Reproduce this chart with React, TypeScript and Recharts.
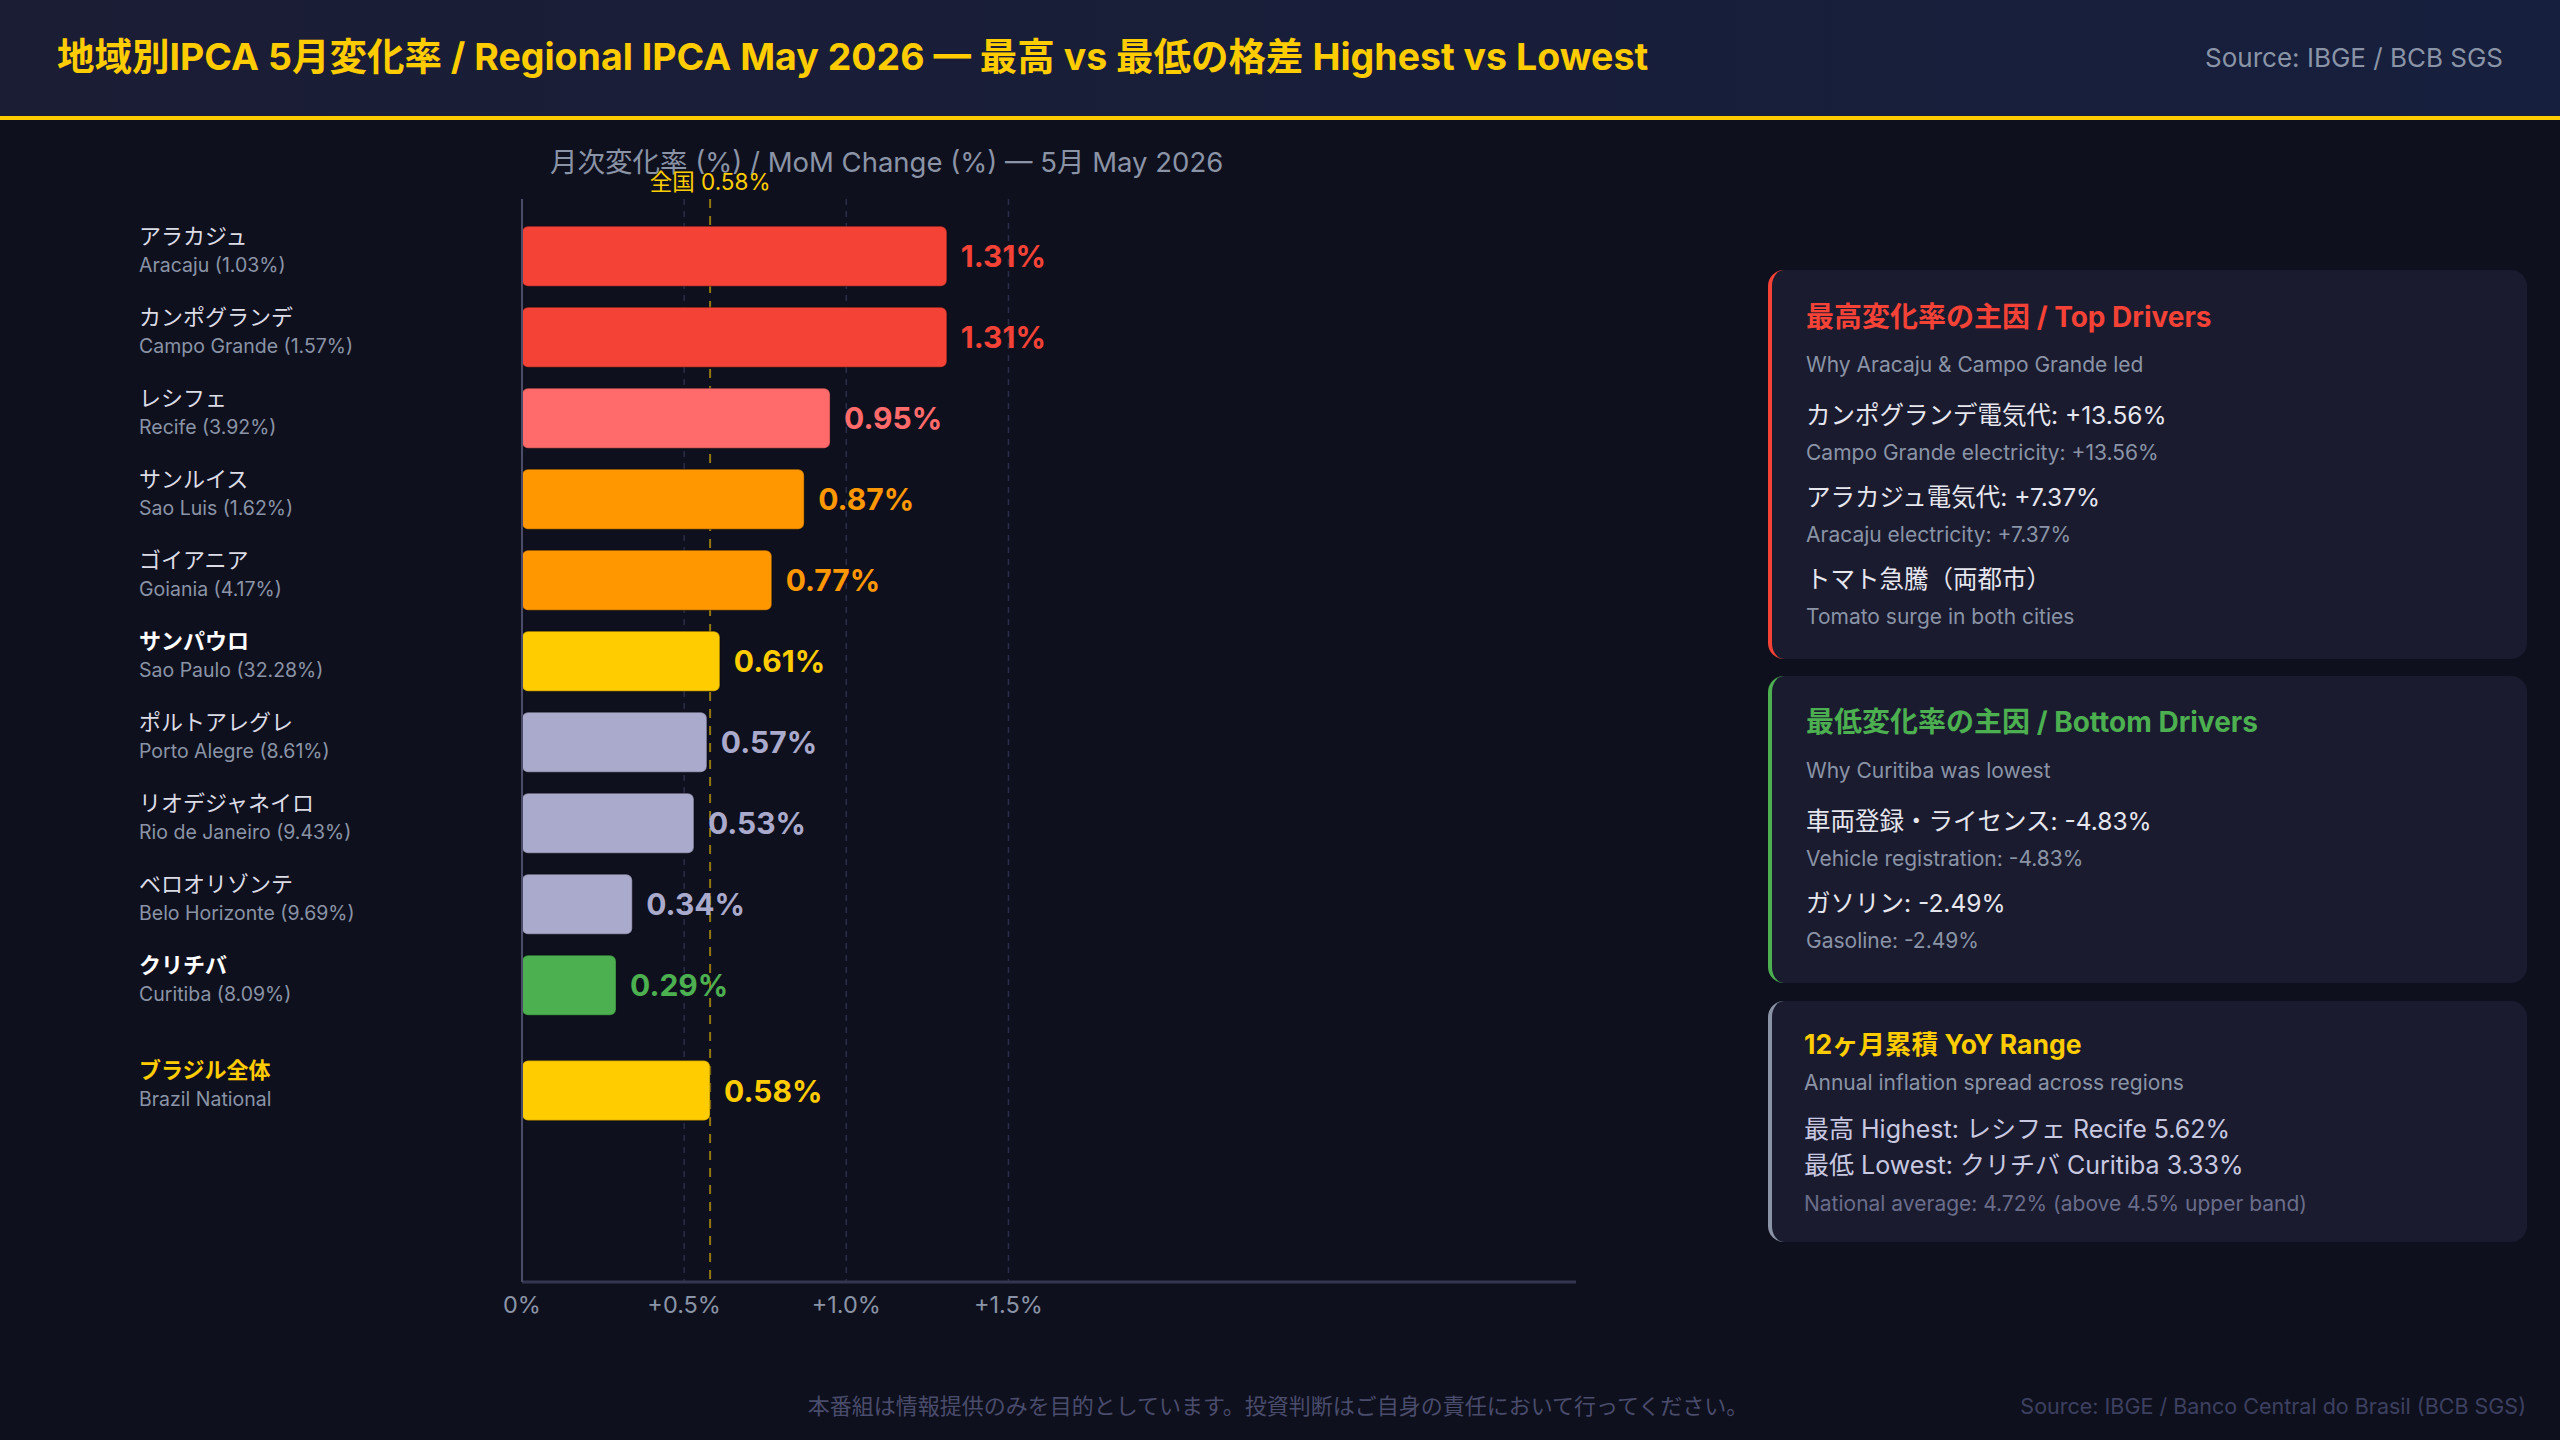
import { BarChart, Bar, XAxis, YAxis, CartesianGrid, ReferenceLine, Cell, LabelList } from 'recharts';

// regional IPCA, May 2026 (month-on-month %)
const regionsJa = ['アラカジュ', 'カンポグランデ', 'レシフェ', 'サンルイス', 'ゴイアニア', 'サンパウロ', 'ポルトアレグレ', 'リオデジャネイロ', 'ベロオリゾンテ', 'クリチバ', 'ブラジル全体'];
const regionsEn = ['Aracaju', 'Campo Grande', 'Recife', 'Sao Luis', 'Goiania', 'Sao Paulo', 'Porto Alegre', 'Rio de Janeiro', 'Belo Horizonte', 'Curitiba', 'Brazil National'];
const weights = [1.03, 1.57, 3.92, 1.62, 4.17, 32.28, 8.61, 9.43, 9.69, 8.09, null];
const momChange = [1.31, 1.31, 0.95, 0.87, 0.77, 0.61, 0.57, 0.53, 0.34, 0.29, 0.58];
// national row sits a little apart from the regions
const rowSlot = [0, 1, 2, 3, 4, 5, 6, 7, 8, 9, 10.3];
const barColors = ['#f44336', '#f44336', '#ff6b6b', '#ff9800', '#ff9800', '#ffcc00', '#aaaacc', '#aaaacc', '#aaaacc', '#4caf50', '#ffcc00'];
const boldRows = [5, 9, 10];

const nationalAvg = 0.58;
const xTicks = [0, 0.5, 1.0, 1.5];
const xMax = 3.25;

const data = regionsJa.map((ja, i) => ({
    ja,
    en: weights[i] == null ? regionsEn[i] : `${regionsEn[i]} (${weights[i]!.toFixed(2)}%)`,
    value: momChange[i],
    slot: rowSlot[i],
    color: barColors[i],
    bold: boldRows.includes(i),
}));

const FONT = 'Inter, "Noto Sans CJK JP", "Noto Sans", sans-serif';

// vertical lines placed through the x scale, drawn as grid so they stay behind the bars
const linesAt = (values: number[]) => (args: any) => {
    const { xAxis, offset } = args || {};
    if (xAxis && typeof xAxis.scale === 'function') return values.map(v => xAxis.scale(v));
    if (offset) return values.map(v => offset.left + (offset.width * v) / xMax);
    return [];
};

const RegionTick = (props: any) => {
    const { y, payload } = props;
    const row = data.find(d => d.slot === payload.value);
    if (!row) return null;
    const isNational = row.slot === rowSlot[rowSlot.length - 1];
    return (
        <g>
            <text x={139} y={y - 20} dominantBaseline="central" fontSize={22} fontWeight={row.bold ? 700 : 400}
                fill={isNational ? '#ffcc00' : row.bold ? '#ffffff' : '#dcdce6'}>{row.ja}</text>
            <text x={139} y={y + 9} dominantBaseline="central" fontSize={19.5} fill="#8a94a6">{row.en}</text>
        </g>
    );
};

const ValueLabel = (props: any) => {
    const { x, y, width, height, value, index } = props;
    return (
        <text x={x + width + 14} y={y + height / 2} dominantBaseline="central" fontSize={30} fontWeight={700}
            fill={data[index].color}>{`${Number(value).toFixed(2)}%`}</text>
    );
};

const Card = ({ top, height, accent, children }: { top: number; height: number; accent: string; children: any }) => (
    <div style={{
        position: 'absolute', left: 1768, top, width: 759, height, boxSizing: 'border-box',
        background: '#1a1b2f', borderRadius: 16, borderLeft: `4px solid ${accent}`,
        padding: '0 30px 0 34px',
    }}>{children}</div>
);

const line = (text: string, size: number, lh: number, color: string, mt: number, weight = 400) => (
    <div style={{ fontSize: size, lineHeight: `${lh}px`, color, marginTop: mt, fontWeight: weight, whiteSpace: 'nowrap' }}>{text}</div>
);

export default function App() {
    return (
        <div style={{ position: 'absolute', left: 0, top: 0, width: 2560, height: 1440, background: '#0f101e', fontFamily: FONT, overflow: 'hidden' }}>
            {/* header */}
            <div style={{ position: 'absolute', left: 0, top: 0, width: 2560, height: 116, background: 'linear-gradient(90deg, #1b1d35 0%, #161f3d 100%)', borderBottom: '4px solid #ffcc00' }}>
                <div style={{ position: 'absolute', left: 57, top: 34, lineHeight: '46px', fontSize: 37.5, fontWeight: 700, color: '#ffcc00', whiteSpace: 'nowrap' }}>
                    地域別IPCA 5月変化率 / Regional IPCA May 2026 — 最高 vs 最低の格差 Highest vs Lowest
                </div>
                <div style={{ position: 'absolute', right: 57, top: 42, lineHeight: '32px', fontSize: 26, color: '#8a94a6' }}>
                    Source: IBGE / BCB SGS
                </div>
            </div>

            <div style={{ position: 'absolute', left: 550, top: 145, lineHeight: '34px', fontSize: 27.5, color: '#8a94a6', whiteSpace: 'nowrap' }}>
                月次変化率 (%) / MoM Change (%) — 5月 May 2026
            </div>

            <div style={{ position: 'absolute', left: 0, top: 0 }}>
                <BarChart width={1700} height={1360} data={data} layout="vertical" margin={{ top: 199, right: 124, bottom: 28, left: 0 }}>
                    <CartesianGrid horizontal={false} stroke="#2a2d47" strokeWidth={1.5} strokeDasharray="6 6"
                        verticalCoordinatesGenerator={linesAt(xTicks.slice(1))} />
                    <CartesianGrid horizontal={false} stroke="#ffcc00" strokeOpacity={0.55} strokeWidth={2} strokeDasharray="9 8"
                        verticalCoordinatesGenerator={linesAt([nationalAvg])} />
                    <XAxis type="number" domain={[0, xMax]} ticks={xTicks} allowDataOverflow
                        tickFormatter={(v: number) => (v === 0 ? '0%' : `+${v.toFixed(1)}%`)}
                        axisLine={{ stroke: '#34364f', strokeWidth: 3 }} tickLine={false}
                        tick={{ fill: '#8a94a6', fontSize: 23.5 }} tickMargin={8} height={50} />
                    <YAxis type="number" dataKey="slot" domain={[-0.7, 12.67]} ticks={rowSlot} interval={0}
                        allowDataOverflow width={522} axisLine={{ stroke: '#4a4c68', strokeWidth: 2 }} tickLine={false}
                        tick={<RegionTick />} />
                    <ReferenceLine x={nationalAvg} stroke="none" strokeOpacity={0}
                        label={{ value: `全国 ${nationalAvg.toFixed(2)}%`, position: 'top', offset: 9, fill: '#ffcc00', fontSize: 22.5 }} />
                    <Bar dataKey="value" barSize={60} radius={6} isAnimationActive={false} stroke="rgba(0,0,0,0.25)" strokeWidth={1.5}>
                        {data.map((d, i) => <Cell key={`cell-${i}`} fill={d.color} />)}
                        <LabelList dataKey="value" content={<ValueLabel />} />
                    </Bar>
                </BarChart>
            </div>

            <Card top={270} height={389} accent="#f44336">
                <div style={{ height: 29 }} />
                {line('最高変化率の主因 / Top Drivers', 28, 36, '#f44336', 0, 700)}
                {line('Why Aracaju & Campo Grande led', 21, 28, '#8a94a6', 16)}
                {line('カンポグランデ電気代: +13.56%', 24.5, 32, '#e6e6ee', 20)}
                {line('Campo Grande electricity: +13.56%', 21, 28, '#8a94a6', 8)}
                {line('アラカジュ電気代: +7.37%', 24.5, 32, '#e6e6ee', 14)}
                {line('Aracaju electricity: +7.37%', 21, 28, '#8a94a6', 8)}
                {line('トマト急騰（両都市）', 24.5, 32, '#e6e6ee', 14)}
                {line('Tomato surge in both cities', 21, 28, '#8a94a6', 8)}
            </Card>

            <Card top={676} height={307} accent="#4caf50">
                <div style={{ height: 28 }} />
                {line('最低変化率の主因 / Bottom Drivers', 28, 36, '#4caf50', 0, 700)}
                {line('Why Curitiba was lowest', 21, 28, '#8a94a6', 17)}
                {line('車両登録・ライセンス: -4.83%', 24.5, 32, '#e6e6ee', 20)}
                {line('Vehicle registration: -4.83%', 21, 28, '#8a94a6', 8)}
                {line('ガソリン: -2.49%', 24.5, 32, '#e6e6ee', 14)}
                {line('Gasoline: -2.49%', 21, 28, '#8a94a6', 8)}
            </Card>

            <Card top={1001} height={241} accent="#8a94a6">
                <div style={{ height: 25 }} />
                <div style={{ marginLeft: -2 }}>
                    {line('12ヶ月累積 YoY Range', 26.5, 36, '#ffcc00', 0, 700)}
                    {line('Annual inflation spread across regions', 21, 28, '#8a94a6', 7)}
                    {line('最高 Highest: レシフェ Recife 5.62%', 25, 32, '#c8c8e0', 16)}
                    {line('最低 Lowest: クリチバ Curitiba 3.33%', 25, 32, '#c8c8e0', 4)}
                    {line('National average: 4.72% (above 4.5% upper band)', 21, 26, '#6a6d8a', 10)}
                </div>
            </Card>

            {/* footer */}
            <div style={{ position: 'absolute', left: 0, width: 2556, top: 1391, lineHeight: '30px', fontSize: 22, color: '#4a4c6c', textAlign: 'center' }}>
                本番組は情報提供のみを目的としています。投資判断はご自身の責任において行ってください。
            </div>
            <div style={{ position: 'absolute', right: 34, top: 1391, lineHeight: '30px', fontSize: 21.5, color: '#3d4060' }}>
                Source: IBGE / Banco Central do Brasil (BCB SGS)
            </div>
        </div>
    );
}
